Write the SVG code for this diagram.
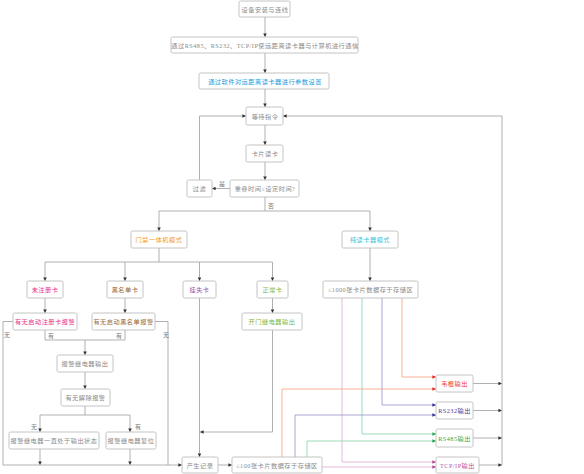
<svg xmlns="http://www.w3.org/2000/svg" width="584" height="474" viewBox="0 0 584 474">
<style>
.box{fill:#fff;stroke:#bdbdbd;stroke-width:0.9}
text{font-family:"Liberation Serif","Noto Sans CJK SC",serif;font-size:6.2px;letter-spacing:0.5px;text-anchor:middle;dominant-baseline:central;fill:#8a8a8a}
.lbl{font-size:6px;text-anchor:start;fill:#777}
.ln{fill:none;stroke:#a8a8a8;stroke-width:0.9}
.lo{fill:none;stroke:#f6a88a;stroke-width:0.9}
.lp{fill:none;stroke:#a09ad0;stroke-width:0.9}
.lg{fill:none;stroke:#8fd8ac;stroke-width:0.9}
.lk{fill:none;stroke:#e2b0d6;stroke-width:0.9}
</style>
<defs>
<marker id="a" viewBox="0 0 6 6" refX="6" refY="3" markerWidth="4" markerHeight="4" orient="auto"><path d="M0,0L6,3L0,6z" fill="#333"/></marker>
<marker id="ao" viewBox="0 0 6 6" refX="6" refY="3" markerWidth="4" markerHeight="4" orient="auto"><path d="M0,0L6,3L0,6z" fill="#e82020"/></marker>
<marker id="ap" viewBox="0 0 6 6" refX="6" refY="3" markerWidth="4" markerHeight="4" orient="auto"><path d="M0,0L6,3L0,6z" fill="#303090"/></marker>
<marker id="ag" viewBox="0 0 6 6" refX="6" refY="3" markerWidth="4" markerHeight="4" orient="auto"><path d="M0,0L6,3L0,6z" fill="#20a050"/></marker>
<marker id="ak" viewBox="0 0 6 6" refX="6" refY="3" markerWidth="4" markerHeight="4" orient="auto"><path d="M0,0L6,3L0,6z" fill="#b04090"/></marker>
</defs>
<rect width="584" height="474" fill="#fff"/>
<g id="connectors">
<path class="ln" d="M265,17V37" marker-end="url(#a)"/>
<path class="ln" d="M265,53V73" marker-end="url(#a)"/>
<path class="ln" d="M265,89V107" marker-end="url(#a)"/>
<path class="ln" d="M265,125V145" marker-end="url(#a)"/>
<path class="ln" d="M265,162V180" marker-end="url(#a)"/>
<path class="ln" d="M230,188.5H212" marker-end="url(#a)"/>
<text class="lbl" x="219" y="184">是</text>
<path class="ln" d="M199.5,180V116H246" marker-end="url(#a)"/>
<path class="ln" d="M265,197V211"/>
<text class="lbl" x="268" y="206">否</text>
<path class="ln" d="M159,211H370"/>
<path class="ln" d="M159,211V231" marker-end="url(#a)"/>
<path class="ln" d="M370,211V231" marker-end="url(#a)"/>
<path class="ln" d="M159,248V262"/>
<path class="ln" d="M45,262H272.5"/>
<path class="ln" d="M45,262V281" marker-end="url(#a)"/>
<path class="ln" d="M125,262V281" marker-end="url(#a)"/>
<path class="ln" d="M199.5,262V281" marker-end="url(#a)"/>
<path class="ln" d="M272.5,262V281" marker-end="url(#a)"/>
<path class="ln" d="M370,248V281" marker-end="url(#a)"/>
<path class="ln" d="M45,298V313" marker-end="url(#a)"/>
<path class="ln" d="M125,298V313" marker-end="url(#a)"/>
<path class="ln" d="M272.5,298V313" marker-end="url(#a)"/>
<path class="ln" d="M13,321.5H3V465"/>
<text class="lbl" x="4" y="335">无</text>
<path class="ln" d="M155,321.5H168V465"/>
<text class="lbl" x="163" y="335">无</text>
<path class="ln" d="M45,330V340H125V330"/>
<text class="lbl" x="48" y="336">有</text>
<text class="lbl" x="116" y="336">有</text>
<path class="ln" d="M85,340V355" marker-end="url(#a)"/>
<path class="ln" d="M85,372V389" marker-end="url(#a)"/>
<path class="ln" d="M85,406V415"/>
<path class="ln" d="M40,415H130"/>
<path class="ln" d="M40,415V432" marker-end="url(#a)"/>
<path class="ln" d="M130,415V432" marker-end="url(#a)"/>
<text class="lbl" x="31" y="427">无</text>
<text class="lbl" x="135" y="427">有</text>
<path class="ln" d="M40,449V465" marker-end="url(#a)"/>
<path class="ln" d="M130,449V465" marker-end="url(#a)"/>
<path class="ln" d="M3,465H182" marker-end="url(#a)"/>
<path class="ln" d="M199.5,298V457" marker-end="url(#a)"/>
<path class="ln" d="M272.5,330V432H200" marker-end="url(#a)"/>
<path class="ln" d="M218,465H232" marker-end="url(#a)"/>
<path class="lo" d="M402,297V377H436" marker-end="url(#ao)"/>
<path class="lp" d="M382,297V405H436" marker-end="url(#ap)"/>
<path class="lg" d="M362,297V434H436" marker-end="url(#ag)"/>
<path class="lk" d="M342,297V462H436" marker-end="url(#ak)"/>
<path class="lo" d="M282,457V389H436" marker-end="url(#ao)"/>
<path class="lp" d="M295,457V415H436" marker-end="url(#ap)"/>
<path class="lg" d="M307,457V441H436" marker-end="url(#ag)"/>
<path class="lk" d="M322,467H436" marker-end="url(#ak)"/>
<path class="ln" d="M473,383.5H502" marker-end="url(#a)"/>
<path class="ln" d="M473,410.5H502" marker-end="url(#a)"/>
<path class="ln" d="M473,438H502" marker-end="url(#a)"/>
<path class="ln" d="M479,465H502" marker-end="url(#a)"/>
<path class="ln" d="M502,465V116H283" marker-end="url(#a)"/>
</g>
<g id="n1"><rect class="box" x="239" y="1" width="51" height="16" rx="1.5"/><text x="265" y="9">设备安装与连线</text></g>
<g id="n2"><rect class="box" x="171" y="37" width="187" height="16" rx="1.5"/><text x="265" y="45">通过RS485、RS232、TCP/IP使远距离读卡器与计算机进行通信</text></g>
<g id="n3"><rect class="box" x="199" y="73" width="130" height="16" rx="1.5"/><text x="265" y="81" style="fill:#1a9be0">通过软件对远距离读卡器进行参数设置</text></g>
<g id="n4"><rect class="box" x="246" y="107" width="37" height="18" rx="1.5"/><text x="265" y="116">等待指令</text></g>
<g id="n5"><rect class="box" x="246" y="145" width="37" height="17" rx="1.5"/><text x="265" y="153.5">卡片读卡</text></g>
<g id="n6"><rect class="box" x="230" y="180" width="69" height="17" rx="1.5"/><text x="265" y="188.5">重叠时间≤设定时间?</text></g>
<g id="n7"><rect class="box" x="187" y="180" width="25" height="17" rx="1.5"/><text x="199.5" y="188.5">过滤</text></g>
<g id="n8"><rect class="box" x="131" y="231" width="56" height="17" rx="1.5"/><text x="159" y="239.5" style="fill:#f5961e">门禁一体机模式</text></g>
<g id="n9"><rect class="box" x="342" y="231" width="56" height="17" rx="1.5"/><text x="370" y="239.5" style="fill:#45c0d8">纯读卡器模式</text></g>
<g id="n10"><rect class="box" x="27" y="281" width="36" height="17" rx="1.5"/><text x="45" y="289.5" style="fill:#e8308c">未注册卡</text></g>
<g id="n11"><rect class="box" x="107" y="281" width="36" height="17" rx="1.5"/><text x="125" y="289.5" style="fill:#9a6a3a">黑名单卡</text></g>
<g id="n12"><rect class="box" x="183" y="281" width="33" height="17" rx="1.5"/><text x="199.5" y="289.5" style="fill:#9050b0">挂失卡</text></g>
<g id="n13"><rect class="box" x="257" y="281" width="31" height="17" rx="1.5"/><text x="272.5" y="289.5" style="fill:#80b840">正常卡</text></g>
<g id="n14"><rect class="box" x="323" y="281" width="95" height="17" rx="1.5"/><text x="370.5" y="289.5">≤1000张卡片数据存于存储区</text></g>
<g id="n15"><rect class="box" x="13" y="313" width="64" height="17" rx="1.5"/><text x="45" y="321.5" style="fill:#e8308c">有无启动注册卡报警</text></g>
<g id="n16"><rect class="box" x="92" y="313" width="63" height="17" rx="1.5"/><text x="123.5" y="321.5" style="fill:#9a6a3a">有无启动黑名单报警</text></g>
<g id="n17"><rect class="box" x="242" y="313" width="60" height="17" rx="1.5"/><text x="272" y="321.5" style="fill:#80b840">开门继电器输出</text></g>
<g id="n18"><rect class="box" x="57" y="355" width="56" height="17" rx="1.5"/><text x="85" y="363.5">报警继电器输出</text></g>
<g id="n19"><rect class="box" x="61" y="389" width="49" height="17" rx="1.5"/><text x="85.5" y="397.5">有无解除报警</text></g>
<g id="n20"><rect class="box" x="9" y="432" width="90" height="17" rx="1.5"/><text x="54" y="440.5">报警继电器一直处于输出状态</text></g>
<g id="n21"><rect class="box" x="106" y="432" width="50" height="17" rx="1.5"/><text x="131" y="440.5">报警继电器复位</text></g>
<g id="n22"><rect class="box" x="182" y="457" width="36" height="16" rx="1.5"/><text x="200" y="465">产生记录</text></g>
<g id="n23"><rect class="box" x="232" y="457" width="90" height="16" rx="1.5"/><text x="277" y="465">≤100张卡片数据存于存储区</text></g>
<g id="n24"><rect class="box" x="436" y="375" width="37" height="17" rx="1.5"/><text x="454.5" y="383.5" style="fill:#f03a2a">韦根输出</text></g>
<g id="n25"><rect class="box" x="436" y="402" width="37" height="17" rx="1.5"/><text x="454.5" y="410.5" style="fill:#4040a0">RS232输出</text></g>
<g id="n26"><rect class="box" x="436" y="429" width="37" height="18" rx="1.5"/><text x="454.5" y="438" style="fill:#30a858">RS485输出</text></g>
<g id="n27"><rect class="box" x="436" y="457" width="43" height="16" rx="1.5"/><text x="457.5" y="465" style="fill:#c050a0">TCP/IP输出</text></g>
</svg>
